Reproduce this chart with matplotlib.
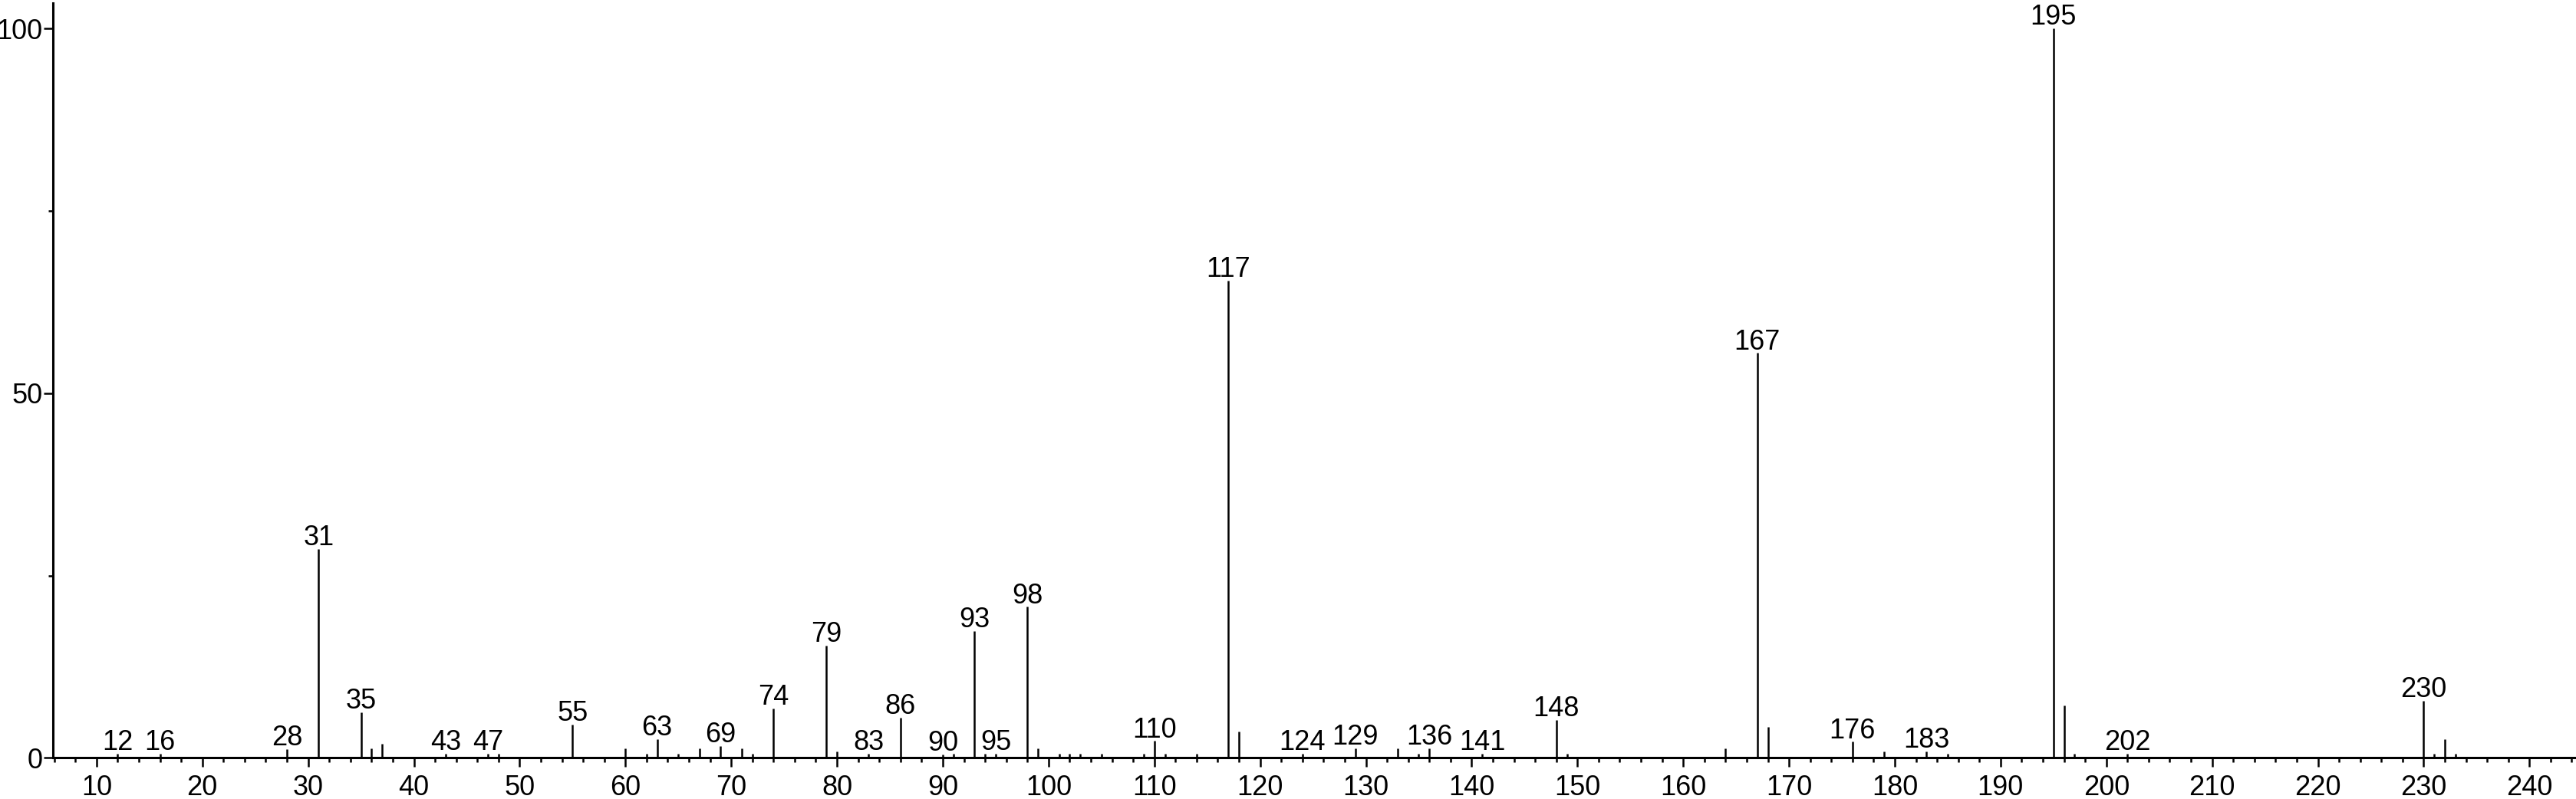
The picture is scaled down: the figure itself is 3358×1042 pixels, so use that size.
"""Stick plot of an EI mass spectrum (relative intensity vs m/z)."""
import matplotlib

matplotlib.use("Agg")
import matplotlib.pyplot as plt
from matplotlib.ticker import MultipleLocator

plt.rcParams["font.family"] = ["Liberation Sans", "DejaVu Sans"]

# m/z of each peak and its relative intensity (% of base peak)
mz = [12, 16, 28, 31, 35, 36, 37, 43, 47, 48, 55, 60, 62, 63, 65, 67, 69, 71, 72,
      74, 79, 80, 83, 86, 90, 91, 93, 94, 95, 98, 99, 101, 102, 103, 105, 109,
      110, 111, 114, 117, 118, 124, 129, 133, 135, 136, 141, 148, 149, 164, 167,
      168, 176, 179, 183, 185, 195, 196, 197, 202, 230, 231, 232, 233]
intensity = [0.6, 0.6, 1.2, 28.6, 6.2, 1.3, 1.9, 0.6, 0.6, 0.6, 4.6, 1.3, 0.6, 2.6,
             0.6, 1.3, 1.6, 1.3, 0.6, 6.8, 15.4, 0.9, 0.6, 5.5, 0.5, 0.6, 17.4, 0.6,
             0.6, 20.7, 1.3, 0.6, 0.6, 0.6, 0.6, 0.6, 2.3, 0.6, 0.6, 65.4, 3.6,
             0.6, 1.3, 1.3, 0.6, 1.3, 0.6, 5.2, 0.6, 1.3, 55.5, 4.2, 2.2, 0.9, 0.9,
             0.6, 100.0, 7.2, 0.6, 0.6, 7.8, 0.6, 2.6, 0.6]

# peaks that carry an m/z label
labelled = [12, 16, 28, 31, 35, 43, 47, 55, 63, 69, 74, 79, 83, 86, 90, 93, 95, 98,
            110, 117, 124, 129, 136, 141, 148, 167, 176, 183, 195, 202, 230]

W, H, DPI = 3358, 1042, 100

fig = plt.figure(figsize=(W / DPI, H / DPI), dpi=DPI)
ax = fig.add_axes([69.3 / W, 53.7 / H, 1 - 69.3 / W, 984.3 / H])

ax.vlines(mz, 0, intensity, color="black", linewidth=1.8)

peaks = dict(zip(mz, intensity))
for m in labelled:
    ax.annotate(str(m), xy=(m, peaks[m]), xytext=(0, 3.5), textcoords="offset points",
                ha="center", va="baseline", fontsize=26)

ax.set_xlim(5.9, 244.4)
ax.set_ylim(0, 103.5)

ax.xaxis.set_major_locator(MultipleLocator(10))
ax.xaxis.set_minor_locator(MultipleLocator(2))
ax.yaxis.set_major_locator(MultipleLocator(50))
ax.yaxis.set_minor_locator(MultipleLocator(25))

for side in ("top", "right"):
    ax.spines[side].set_visible(False)
for side in ("left", "bottom"):
    ax.spines[side].set_linewidth(2.2)

ax.tick_params(which="major", direction="out", length=8.5, width=1.8, labelsize=26)
ax.tick_params(axis="x", which="major", pad=7)
ax.tick_params(axis="y", which="major", pad=1.5)
ax.tick_params(which="minor", direction="out", length=4, width=1.8)

fig.savefig("out.png", dpi=DPI)
